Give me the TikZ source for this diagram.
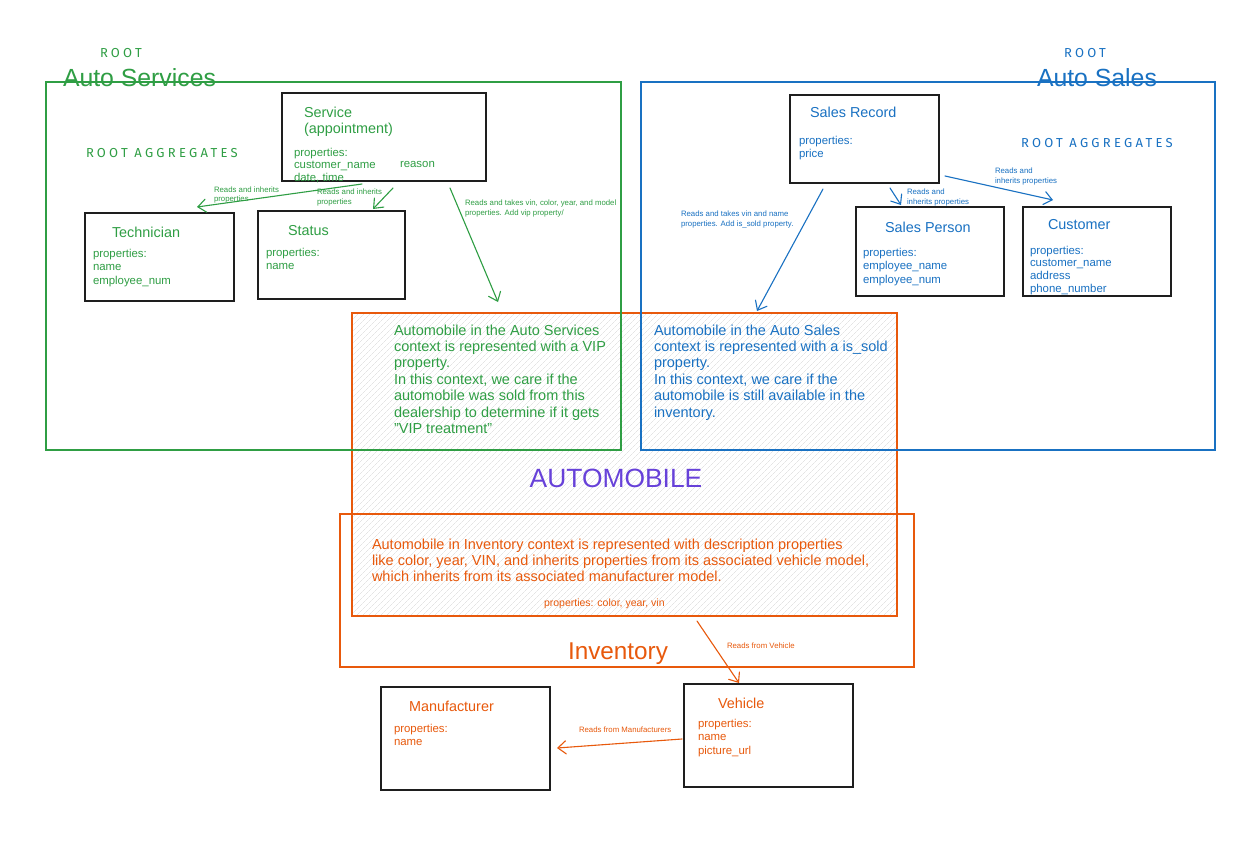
\documentclass[tikz,border=0pt]{standalone}
\usepackage{fontspec}
\setmainfont{Liberation Sans}
\newfontfamily\handfont[LetterSpace=25]{Fira Sans}
\usetikzlibrary{arrows.meta,patterns.meta}
\definecolor{cgreen}{HTML}{2F9E44}
\definecolor{cblue}{HTML}{1971C2}
\definecolor{corange}{HTML}{E8590C}
\definecolor{cpurple}{HTML}{6741D9}
\definecolor{cdark}{HTML}{1E1E1E}
\newcommand{\fsz}[2]{\fontsize{#1}{#2}\selectfont}
\begin{document}
\begin{tikzpicture}[x=1pt,y=-1pt,
  box/.style={draw=cdark,line width=1.4pt,inner sep=0pt,outer sep=0pt},
  frame/.style={line width=1.2pt,inner sep=0pt,outer sep=0pt},
  txt/.style={anchor=base west,inner sep=0pt,outer sep=0pt,align=left},
  ttl/.style={txt,font=\fsz{14.4}{16}},
  props/.style={txt,font=\fsz{11.4}{#1}},
  small/.style={txt,font=\fsz{7.8}{#1}},
  hand/.style={txt,font=\handfont\fsz{13}{15}},
  big/.style={txt,font=\fsz{14.5}{16.45}},
  conn/.style={line width=1.1pt,line cap=round,-{Straight Barb[length=8pt,width=13pt,line cap=round]}}
]
\useasboundingbox (0,0) rectangle (1258,849);
\fill[white] (0,0) rectangle (1258,849);

% hatched automobile area
\node[frame,draw=corange,pattern={Lines[angle=45,distance=4pt,line width=0.4pt]},pattern color=black!16,minimum width=545pt,minimum height=303pt] (auto) at (624.5,464.5) {};

% context frames
\node[frame,draw=cgreen,minimum width=575pt,minimum height=368pt] (svcctx) at (333.5,266) {};
\node[frame,draw=cblue,minimum width=574pt,minimum height=368pt] (salesctx) at (928,266) {};
\node[frame,draw=corange,minimum width=574pt,minimum height=153pt] (inv) at (627,590.5) {};

% boxes
\node[box,minimum width=204pt,minimum height=88pt] (service) at (384,137) {};
\node[box,minimum width=149pt,minimum height=88pt] (tech) at (159.5,257) {};
\node[box,minimum width=147pt,minimum height=88pt] (status) at (331.5,255) {};
\node[box,minimum width=149pt,minimum height=88pt] (salesrec) at (864.5,139) {};
\node[box,minimum width=148pt,minimum height=89pt] (salesp) at (930,251.5) {};
\node[box,minimum width=148pt,minimum height=89pt] (cust) at (1097,251.5) {};
\node[box,minimum width=169pt,minimum height=103pt] (manu) at (465.5,738.5) {};
\node[box,minimum width=169pt,minimum height=103pt] (veh) at (768.5,735.5) {};

% connector end points
\coordinate (a1s) at (362,184); \coordinate (a1e) at (197,207);
\coordinate (a2s) at (393,188); \coordinate (a2e) at (373,209);
\coordinate (a3s) at (450,188); \coordinate (a3e) at (498,302);
\coordinate (b1s) at (890,188); \coordinate (b1e) at (901,205);
\coordinate (b2s) at (945,176); \coordinate (b2e) at (1053,200);
\coordinate (b3s) at (823,189); \coordinate (b3e) at (757,311);
\coordinate (c1s) at (697,621); \coordinate (c1e) at (739,683);
\coordinate (c2s) at (682,739); \coordinate (c2e) at (557,748);

\draw[conn,cgreen] (a1s) -- (a1e);
\draw[conn,cgreen] (a2s) -- (a2e);
\draw[conn,cgreen] (a3s) -- (a3e);
\draw[conn,cblue] (b1s) -- (b1e);
\draw[conn,cblue] (b2s) -- (b2e);
\draw[conn,cblue] (b3s) -- (b3e);
\draw[conn,corange] (c1s) -- (c1e);
\draw[conn,corange] (c2s) -- (c2e);

% ---- Auto Services texts (green); multi-line nodes placed at the baseline of their last line
\begin{scope}[cgreen]
\node[hand] (groot) at (100,57) {ROOT};
\node[txt,font=\fsz{24.8}{28}] (gtitle) at (63,86) {Auto Services};
\node[hand] (gagg) at (86,157) {ROOT AGGREGATES};
\node[ttl,align=left] (svct) at (304,133) {Service\\(appointment)};
\node[props=12.5] (svcp) at (294,181) {properties:\\customer\_name\\date, time};
\node[props=12.5] (svcr) at (400,167) {reason};
\node[ttl] (techt) at (112,237) {Technician};
\node[props=13.5] (techp) at (93,284) {properties:\\name\\employee\_num};
\node[ttl] (statt) at (288,235) {Status};
\node[props=13] (statp) at (266,269) {properties:\\name};
\node[small=9.5] (l1) at (214,201.5) {Reads and inherits\\properties};
\node[small=10] (l2) at (317,204) {Reads and inherits\\properties};
\node[small=10] (l3) at (465,215) {Reads and takes vin, color, year, and model\\properties. Add vip property/};
\node[big] (gauto) at (394,433.7) {Automobile in the Auto Services\\context is represented with a VIP\\property.\\In this context, we care if the\\automobile was sold from this\\dealership to determine if it gets\\"VIP treatment"};
\end{scope}

% ---- Auto Sales texts (blue)
\begin{scope}[cblue]
\node[hand] (broot) at (1064,57) {ROOT};
\node[txt,font=\fsz{24.8}{28}] (btitle) at (1037,86) {Auto Sales};
\node[hand] (bagg) at (1021,147) {ROOT AGGREGATES};
\node[ttl] (srt) at (810,117) {Sales Record};
\node[props=13] (srp) at (799,157) {properties:\\price};
\node[ttl] (spt) at (885,232) {Sales Person};
\node[props=13.5] (spp) at (863,283) {properties:\\employee\_name\\employee\_num};
\node[ttl] (cut) at (1048,229) {Customer};
\node[props=12.7] (cup) at (1030,292.1) {properties:\\customer\_name\\address\\phone\_number};
\node[small=10.5] (m1) at (907,204.5) {Reads and\\inherits properties};
\node[small=10] (m2) at (995,183) {Reads and\\inherits properties};
\node[small=10] (m3) at (681,226) {Reads and takes vin and name\\properties. Add is\_sold property.};
\node[big] (bauto) at (654,417.25) {Automobile in the Auto Sales\\context is represented with a is\_sold\\property.\\In this context, we care if the\\automobile is still available in the\\inventory.};
\end{scope}

% ---- Automobile / Inventory
\node[inner sep=0pt,font=\fsz{26.4}{30},text=cpurple] (autot) at (616,478) {AUTOMOBILE};
\begin{scope}[corange]
\node[big] (invtxt) at (372,581.9) {Automobile in Inventory context is represented with description properties\\like color, year, VIN, and inherits properties from its associated vehicle model,\\which inherits from its associated manufacturer model.};
\node[txt,font=\fsz{10.5}{12}] (invp) at (544,606.5) {properties: color, year, vin};
\node[anchor=base,inner sep=0pt,font=\fsz{24.3}{28}] (invt) at (618,659.5) {Inventory};
\node[small=10] (n1) at (727,648) {Reads from Vehicle};
\node[small=10] (n2) at (579,732) {Reads from Manufacturers};
\node[ttl] (mant) at (409,711) {Manufacturer};
\node[props=13] (manp) at (394,745) {properties:\\name};
\node[ttl] (veht) at (718,708) {Vehicle};
\node[props=13.5] (vehp) at (698,754) {properties:\\name\\picture\_url};
\end{scope}
\end{tikzpicture}
\end{document}
